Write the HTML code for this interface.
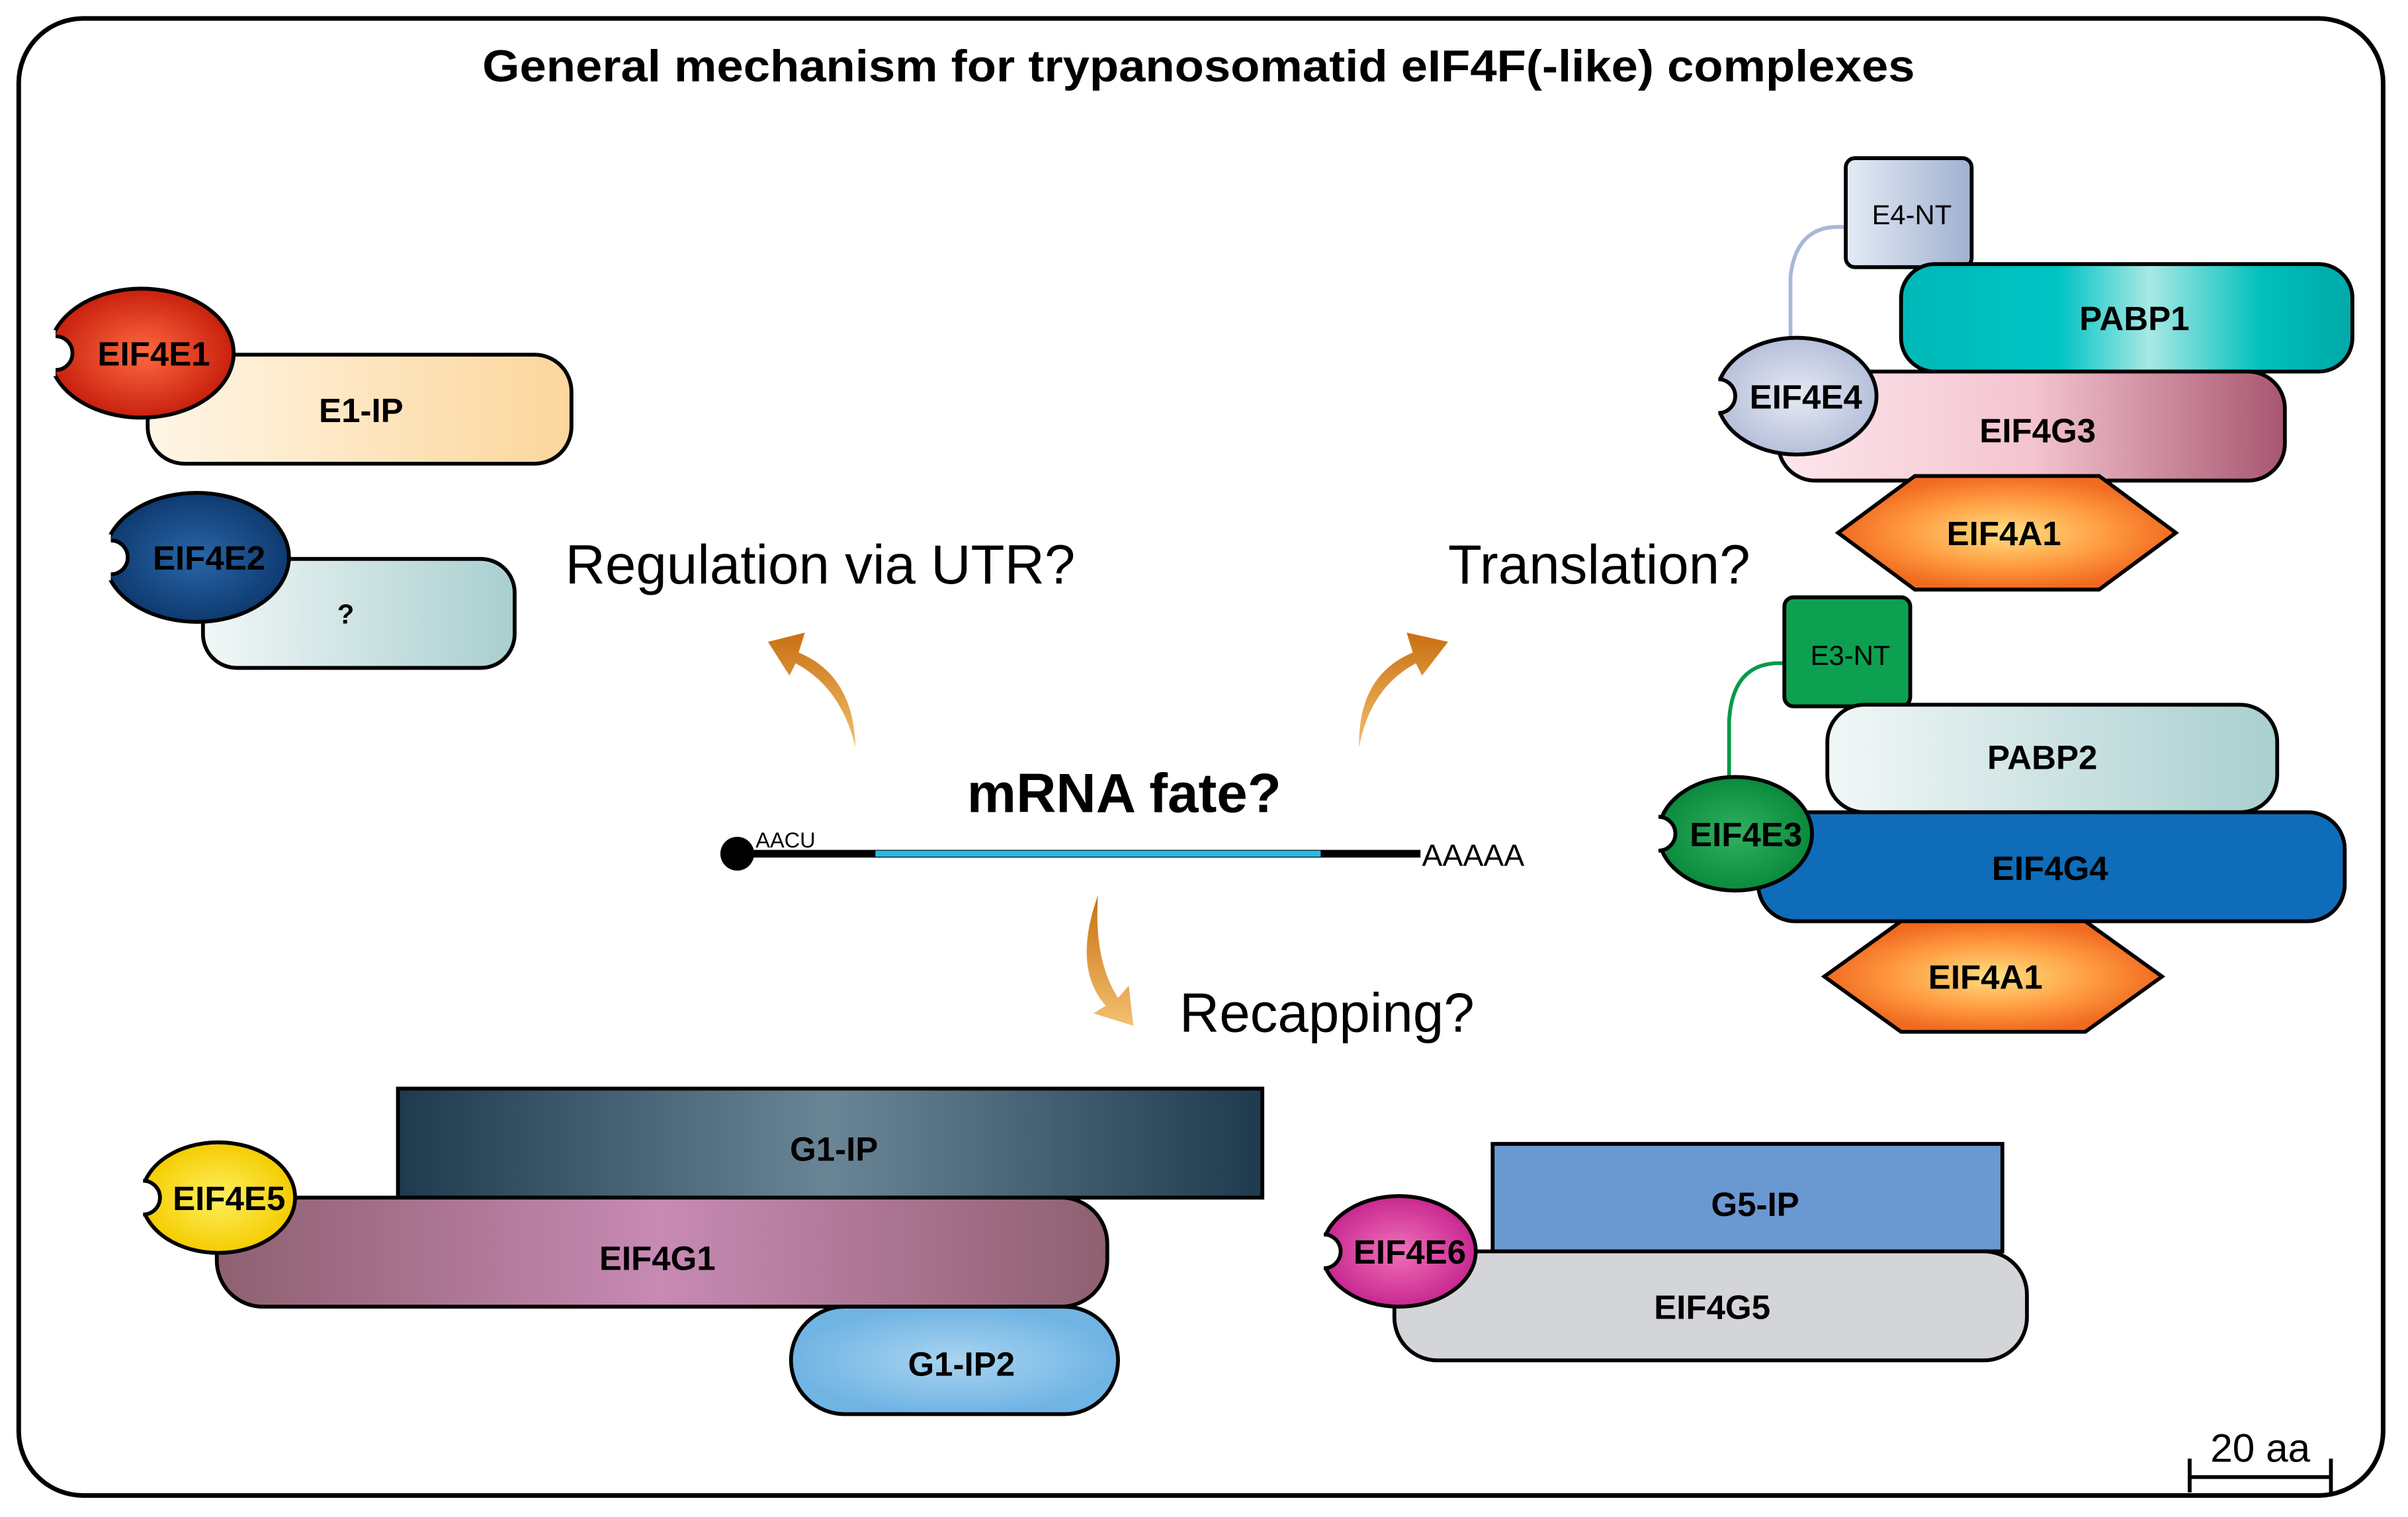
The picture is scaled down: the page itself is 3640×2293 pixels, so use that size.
<!DOCTYPE html>
<html><head><meta charset="utf-8"><style>
html,body{margin:0;padding:0;background:#fff;}
svg{display:block;}
text{font-family:"Liberation Sans",sans-serif;}
</style></head><body>
<svg width="3640" height="2293" viewBox="0 0 1568 988" xmlns="http://www.w3.org/2000/svg">
<defs>
<linearGradient id="g1" x1="0" x2="1"><stop offset="0" stop-color="#fff6e6"/><stop offset="1" stop-color="#fcd69c"/></linearGradient>
<linearGradient id="g2" x1="0" x2="1"><stop offset="0" stop-color="#f2f7f7"/><stop offset="1" stop-color="#a9cfcf"/></linearGradient>
<linearGradient id="g3" x1="0" x2="1"><stop offset="0" stop-color="#00b8b8"/><stop offset="0.35" stop-color="#00c4c4"/><stop offset="0.55" stop-color="#a8e8e4"/><stop offset="0.8" stop-color="#00c0bc"/><stop offset="1" stop-color="#00a8a8"/></linearGradient>
<linearGradient id="g4" x1="0" x2="1"><stop offset="0" stop-color="#fde6ec"/><stop offset="0.5" stop-color="#f4c4d0"/><stop offset="1" stop-color="#a85670"/></linearGradient>
<linearGradient id="g5" x1="0" x2="1"><stop offset="0" stop-color="#e4ebf5"/><stop offset="1" stop-color="#a0b0d0"/></linearGradient>
<radialGradient id="g6"><stop offset="0" stop-color="#ffe080"/><stop offset="0.6" stop-color="#ff9a40"/><stop offset="1" stop-color="#f06a20"/></radialGradient>
<linearGradient id="g7" x1="0" x2="1"><stop offset="0" stop-color="#1e3a4e"/><stop offset="0.5" stop-color="#6a8696"/><stop offset="1" stop-color="#1e3a4e"/></linearGradient>
<linearGradient id="g8" x1="0" x2="1"><stop offset="0" stop-color="#8e6070"/><stop offset="0.5" stop-color="#c88ab4"/><stop offset="1" stop-color="#8e6070"/></linearGradient>
<radialGradient id="rd"><stop offset="0" stop-color="#ff6a40"/><stop offset="1" stop-color="#c8200e"/></radialGradient>
<radialGradient id="bl"><stop offset="0" stop-color="#2a66a8"/><stop offset="1" stop-color="#0e3a70"/></radialGradient>
<radialGradient id="lv"><stop offset="0" stop-color="#e6eaf4"/><stop offset="1" stop-color="#b6c0da"/></radialGradient>
<radialGradient id="gr"><stop offset="0" stop-color="#30b060"/><stop offset="1" stop-color="#0a8a3c"/></radialGradient>
<radialGradient id="ye"><stop offset="0" stop-color="#fff060"/><stop offset="1" stop-color="#f4cc00"/></radialGradient>
<radialGradient id="mg"><stop offset="0" stop-color="#f070b8"/><stop offset="1" stop-color="#c82890"/></radialGradient>
<radialGradient id="lb"><stop offset="0" stop-color="#a8d4f0"/><stop offset="1" stop-color="#70b4e4"/></radialGradient>
<linearGradient id="or" x1="0" y1="1" x2="0" y2="0"><stop offset="0" stop-color="#f4c070"/><stop offset="1" stop-color="#c87010"/></linearGradient>
</defs>
<rect x="12" y="12" width="1540" height="962" rx="42" fill="#fff" stroke="#000" stroke-width="3"/>
<text x="314" y="53" font-size="29" font-weight="bold" textLength="933" lengthAdjust="spacingAndGlyphs">General mechanism for trypanosomatid eIF4F(-like) complexes</text>

<g stroke="#000" stroke-width="2.5">
<rect x="96" y="231" width="276" height="71" rx="24" fill="url(#g1)"/>
<ellipse cx="92" cy="230" rx="60" ry="42" fill="url(#rd)"/>
<rect x="132" y="364" width="203" height="71" rx="22" fill="url(#g2)"/>
<ellipse cx="128" cy="363" rx="60" ry="42" fill="url(#bl)"/>
</g>
<circle cx="36" cy="230" r="11" fill="#fff" stroke="#000" stroke-width="2.5"/><rect x="18" y="215" width="18" height="30" fill="#fff"/>
<circle cx="72" cy="363" r="11" fill="#fff" stroke="#000" stroke-width="2.5"/><rect x="54" y="348" width="18" height="30" fill="#fff"/>
<g font-weight="bold" font-size="22" text-anchor="middle">
<text x="100" y="238">EIF4E1</text>
<text x="235" y="275">E1-IP</text>
<text x="136" y="371" fill="#000">EIF4E2</text>
<text x="225" y="406" font-size="18">?</text>
</g>

<text x="368" y="380" font-size="36">Regulation via UTR?</text>
<text x="943" y="380" font-size="36">Translation?</text>
<text x="768" y="672" font-size="36">Recapping?</text>
<text x="732" y="529" font-size="36" font-weight="bold" text-anchor="middle">mRNA fate?</text>

<line x1="480" y1="556" x2="925" y2="556" stroke="#000" stroke-width="5"/>
<line x1="570" y1="556" x2="860" y2="556" stroke="#2ab8e0" stroke-width="4"/>
<circle cx="480" cy="556" r="11" fill="#000"/>
<text x="492" y="552" font-size="14">AACU</text>
<text x="926" y="564" font-size="20">AAAAA</text>

<g fill="url(#or)">
<path d="M557 487 Q556 440 520 425 L524 412 L500 418 L514 440 L518 432 Q548 448 557 487 Z"/>
<path d="M885 487 Q884 440 920 425 L916 412 L943 418 L926 440 L922 432 Q892 448 885 487 Z"/>
<path d="M715 583 Q698 630 720 655 L712 660 L738 668 L735 642 L728 650 Q712 625 715 583 Z"/>
</g>

<path d="M1202 148 Q1170 145 1166 180 L1166 222" fill="none" stroke="#a8b8d8" stroke-width="2.5"/>
<g stroke="#000" stroke-width="2.5">
<rect x="1202" y="103" width="82" height="71" rx="6" fill="url(#g5)"/>
<rect x="1238" y="172" width="294" height="70" rx="22" fill="url(#g3)"/>
<rect x="1158" y="242" width="330" height="71" rx="24" fill="url(#g4)"/>
<ellipse cx="1170" cy="258" rx="52" ry="38" fill="url(#lv)"/>
<polygon points="1197,347 1247,310 1367,310 1417,347 1367,384 1247,384" fill="url(#g6)"/>
</g>
<circle cx="1119" cy="258" r="11" fill="#fff" stroke="#000" stroke-width="2.5"/><rect x="1100" y="244" width="19" height="28" fill="#fff"/>

<path d="M1162 432 Q1128 430 1126 470 L1126 507" fill="none" stroke="#0a9a48" stroke-width="2.5"/>
<g stroke="#000" stroke-width="2.5">
<rect x="1162" y="389" width="82" height="71" rx="6" fill="#0ca050"/>
<rect x="1190" y="459" width="293" height="70" rx="24" fill="url(#g2)"/>
<rect x="1145" y="529" width="382" height="71" rx="24" fill="#0f6cb8"/>
<ellipse cx="1130" cy="543" rx="50" ry="37" fill="url(#gr)"/>
<polygon points="1188,636 1238,600 1358,600 1408,636 1358,672 1238,672" fill="url(#g6)"/>
</g>
<circle cx="1080" cy="543" r="11" fill="#fff" stroke="#000" stroke-width="2.5"/><rect x="1061" y="529" width="19" height="28" fill="#fff"/>

<g font-weight="bold" font-size="22" text-anchor="middle">
<text x="1245" y="146" font-size="18" font-weight="normal">E4-NT</text>
<text x="1390" y="215">PABP1</text>
<text x="1327" y="288">EIF4G3</text>
<text x="1176" y="266">EIF4E4</text>
<text x="1305" y="355">EIF4A1</text>
<text x="1205" y="433" font-size="18" font-weight="normal">E3-NT</text>
<text x="1330" y="501">PABP2</text>
<text x="1335" y="573">EIF4G4</text>
<text x="1137" y="551">EIF4E3</text>
<text x="1293" y="644">EIF4A1</text>
</g>

<g stroke="#000" stroke-width="2.5">
<rect x="259" y="709" width="563" height="71" fill="url(#g7)"/>
<rect x="141" y="780" width="580" height="71" rx="30" fill="url(#g8)"/>
<rect x="515" y="851" width="213" height="70" rx="35" fill="url(#lb)"/>
<ellipse cx="142" cy="780" rx="50" ry="36" fill="url(#ye)"/>
<rect x="972" y="745" width="332" height="70" fill="#6a98d0"/>
<rect x="908" y="815" width="412" height="71" rx="28" fill="#d4d5d8"/>
<ellipse cx="911" cy="815" rx="50" ry="36" fill="url(#mg)"/>
</g>
<circle cx="93" cy="780" r="11" fill="#fff" stroke="#000" stroke-width="2.5"/><rect x="74" y="766" width="19" height="28" fill="#fff"/>
<circle cx="862" cy="815" r="11" fill="#fff" stroke="#000" stroke-width="2.5"/><rect x="843" y="801" width="19" height="28" fill="#fff"/>
<g font-weight="bold" font-size="22" text-anchor="middle">
<text x="543" y="756">G1-IP</text>
<text x="428" y="827">EIF4G1</text>
<text x="626" y="896">G1-IP2</text>
<text x="149" y="788">EIF4E5</text>
<text x="1143" y="792">G5-IP</text>
<text x="1115" y="859">EIF4G5</text>
<text x="918" y="823">EIF4E6</text>
</g>

<text x="1472" y="952" font-size="26" text-anchor="middle">20 aa</text>
<g stroke="#000" stroke-width="2.5"><line x1="1426" y1="962" x2="1518" y2="962"/><line x1="1426" y1="950" x2="1426" y2="972"/><line x1="1518" y1="950" x2="1518" y2="972"/></g>
</svg>
</body></html>
